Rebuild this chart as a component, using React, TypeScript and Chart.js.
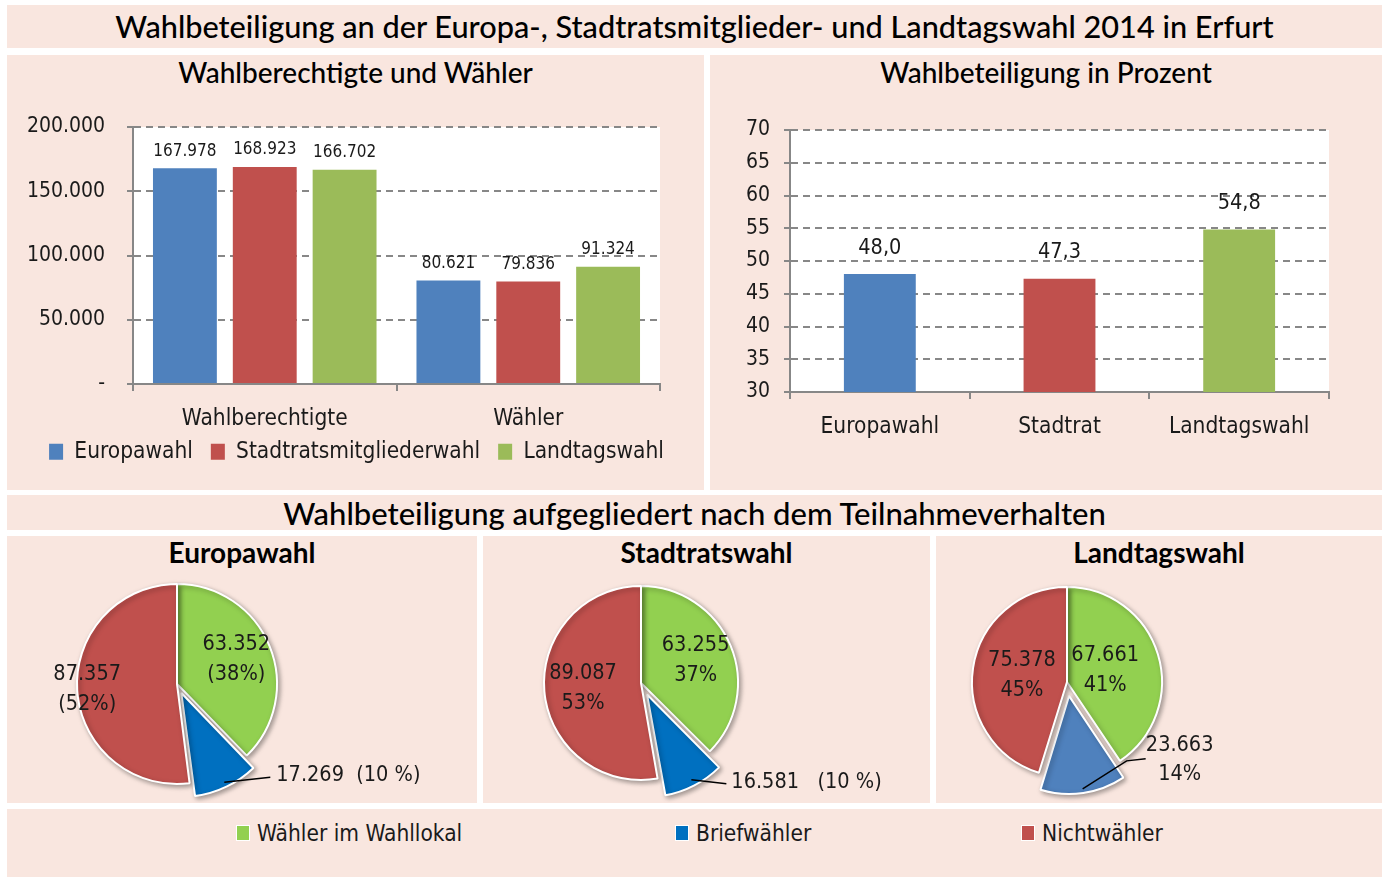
import React, { useEffect, useRef } from 'react';
import { Chart, registerables } from 'chart.js';

Chart.register(...registerables);

// ---------------- data ----------------
const mainTitle = 'Wahlbeteiligung an der Europa-, Stadtratsmitglieder- und Landtagswahl 2014 in Erfurt';
const countTitle = 'Wahlberechtigte und Wähler';
const turnoutTitle = 'Wahlbeteiligung in Prozent';
const pieSectionTitle = 'Wahlbeteiligung aufgegliedert nach dem Teilnahmeverhalten';

const countCategories = ['Wahlberechtigte', 'Wähler'];
const countSeries = ['Europawahl', 'Stadtratsmitgliederwahl', 'Landtagswahl'];
const europawahlCounts = [167978, 80621];
const stadtratCounts = [168923, 79836];
const landtagCounts = [166702, 91324];

const turnoutCategories = ['Europawahl', 'Stadtrat', 'Landtagswahl'];
const turnoutPercent = [48.0, 47.3, 54.8];

const pieTitles = ['Europawahl', 'Stadtratswahl', 'Landtagswahl'];
const pieCategories = ['Wähler im Wahllokal', 'Briefwähler', 'Nichtwähler'];
const europaVoters = [63352, 17269, 87357];
const stadtratVoters = [63255, 16581, 89087];
const landtagVoters = [67661, 23663, 75378];
const europaShares = ['(38%)', '(10 %)', '(52%)'];
const stadtratShares = ['37%', '(10 %)', '53%'];
const landtagShares = ['41%', '14%', '45%'];

// ---------------- styles ----------------
const PINK = '#F9E6DF';
const NARROW = '"DejaVu Sans Condensed", "Liberation Sans Narrow", "Liberation Sans", sans-serif';
const TITLE_FONT = 'Lato, "Noto Sans", sans-serif';
const TEXT = '#1a1a1a';
const AXIS = '#878787';
const BAR_BLUE = '#4F81BD';
const BAR_RED = '#C0504D';
const BAR_GREEN = '#9BBB59';
const PIE_GREEN = '#92D050';
const PIE_BLUE = '#0070C0';
const PIE_BLUE_LIGHT = '#4F81BD';
const PIE_RED = '#C0504D';

const fmtThousands = (v: number) => String(Math.round(v)).replace(/\B(?=(\d{3})+(?!\d))/g, '.');
const fmtDecimal = (v: number) => v.toFixed(1).replace('.', ',');

// ---------------- plugins ----------------
const plotBackground = {
  id: 'plotBackground',
  beforeDraw(chart: any) {
    const { ctx, chartArea: a } = chart;
    ctx.save();
    ctx.fillStyle = '#ffffff';
    ctx.fillRect(a.left, a.top, a.right - a.left, a.bottom - a.top);
    ctx.restore();
  },
};

const barValueLabels = (fmt: (v: number) => string, gap: number, size: number) => ({
  id: 'barValueLabels',
  afterDatasetsDraw(chart: any) {
    const ctx = chart.ctx;
    ctx.save();
    ctx.font = `${size}px ${NARROW}`;
    ctx.fillStyle = TEXT;
    ctx.textAlign = 'center';
    ctx.textBaseline = 'middle';
    chart.data.datasets.forEach((ds: any, di: number) => {
      chart.getDatasetMeta(di).data.forEach((bar: any, i: number) => {
        ctx.fillText(fmt(ds.data[i]), bar.x, bar.y - gap);
      });
    });
    ctx.restore();
  },
});

const legendShift = (dx: number, dy: number) => ({
  id: 'legendShift',
  afterLayout(chart: any) {
    if (chart.legend) {
      chart.legend.left += dx;
      chart.legend.right += dx;
      chart.legend.top += dy;
      chart.legend.bottom += dy;
    }
  },
});

const pieShadow = {
  id: 'pieShadow',
  beforeDatasetsDraw(chart: any) {
    const c = chart.ctx;
    c.save();
    c.shadowColor = 'rgba(0,0,0,0.35)';
    c.shadowBlur = 5;
    c.shadowOffsetX = 2;
    c.shadowOffsetY = 2;
  },
  afterDatasetsDraw(chart: any) {
    chart.ctx.restore();
  },
};

type OutSpec = { index: number; lines: string[]; leader: [number, number][]; dx: number; dy: number; align: CanvasTextAlign };

const pieLabels = (inside: { index: number; lines: string[]; frac: number }[], out: OutSpec) => ({
  id: 'pieLabels',
  afterDraw(chart: any) {
    const ctx = chart.ctx;
    const meta = chart.getDatasetMeta(0);
    const ds = chart.data.datasets[0];
    const lh = 30;
    ctx.save();
    ctx.font = `21.5px ${NARROW}`;
    ctx.fillStyle = TEXT;
    ctx.textBaseline = 'middle';
    inside.forEach((l) => {
      const arc = meta.data[l.index];
      const mid = (arc.startAngle + arc.endAngle) / 2;
      const cx = arc.x + Math.cos(mid) * arc.outerRadius * l.frac;
      const cy = arc.y + Math.sin(mid) * arc.outerRadius * l.frac;
      ctx.textAlign = 'center';
      l.lines.forEach((t, k) => ctx.fillText(t, cx, cy + (k - (l.lines.length - 1) / 2) * lh));
    });
    const arc = meta.data[out.index];
    const mid = (arc.startAngle + arc.endAngle) / 2;
    const off = (ds.offset[out.index] || 0) / 4;
    const dist = arc.outerRadius + off - 1;
    let px = arc.x + Math.cos(mid) * dist;
    let py = arc.y + Math.sin(mid) * dist;
    ctx.strokeStyle = '#000';
    ctx.lineWidth = 1.5;
    ctx.beginPath();
    ctx.moveTo(px, py);
    out.leader.forEach(([dx, dy]) => {
      px += dx;
      py += dy;
      ctx.lineTo(px, py);
    });
    ctx.stroke();
    ctx.textAlign = out.align;
    const tx = px + out.dx;
    const ty = py + out.dy;
    out.lines.forEach((t, k) => ctx.fillText(t, tx, ty + (k - (out.lines.length - 1) / 2) * 29));
    ctx.restore();
  },
});

// ---------------- chart configs ----------------
const tickFont = { family: NARROW, size: 21 };
const catFont = { family: NARROW, size: 22.5 };
const LEGEND_PAD = 18;
const LEGEND_H = 22.5 + LEGEND_PAD + 10;

function countConfig(): any {
  return {
    type: 'bar',
    data: {
      labels: countCategories,
      datasets: [
        { label: countSeries[0], data: europawahlCounts, backgroundColor: BAR_BLUE },
        { label: countSeries[1], data: stadtratCounts, backgroundColor: BAR_RED },
        { label: countSeries[2], data: landtagCounts, backgroundColor: BAR_GREEN },
      ],
    },
    options: {
      animation: false,
      responsive: false,
      maintainAspectRatio: false,
      datasets: { bar: { categoryPercentage: 0.909, barPercentage: 0.8 } },
      layout: { padding: { left: 0, right: 44, top: 72, bottom: 0 } },
      plugins: {
        legend: {
          position: 'bottom',
          labels: { font: catFont, color: TEXT, boxWidth: 14, boxHeight: 16, padding: LEGEND_PAD },
        },
        tooltip: { enabled: false },
      },
      scales: {
        x: {
          grid: { display: true, offset: true, drawOnChartArea: false, color: AXIS, lineWidth: 2, tickLength: 7 },
          border: { color: AXIS, width: 2 },
          ticks: { font: catFont, color: TEXT, padding: 15 },
          afterFit(s: any) {
            s.height = 106 - LEGEND_H;
          },
        },
        y: {
          min: 0,
          max: 200000,
          ticks: {
            stepSize: 50000,
            autoSkip: false,
            font: tickFont,
            color: TEXT,
            padding: 22,
            callback: (v: number) => (v === 0 ? '-' : fmtThousands(v)),
          },
          grid: { color: AXIS, lineWidth: 2, tickLength: 6, tickBorderDash: [] },
          border: { color: AXIS, width: 2, dash: [7, 5] },
          afterFit(s: any) {
            s.width = 126;
          },
        },
      },
    },
    plugins: [plotBackground, barValueLabels(fmtThousands, 17, 17), legendShift(23, -17)],
  };
}

function turnoutConfig(): any {
  return {
    type: 'bar',
    data: {
      labels: turnoutCategories,
      datasets: [
        {
          label: turnoutTitle,
          data: turnoutPercent,
          backgroundColor: [BAR_BLUE, BAR_RED, BAR_GREEN],
        },
      ],
    },
    options: {
      animation: false,
      responsive: false,
      maintainAspectRatio: false,
      datasets: { bar: { categoryPercentage: 1, barPercentage: 0.4 } },
      layout: { padding: { left: 0, right: 53, top: 75, bottom: 0 } },
      plugins: { legend: { display: false }, tooltip: { enabled: false } },
      scales: {
        x: {
          grid: { display: true, offset: true, drawOnChartArea: false, color: AXIS, lineWidth: 2, tickLength: 7 },
          border: { color: AXIS, width: 2 },
          ticks: { font: catFont, color: TEXT, padding: 15 },
          afterFit(s: any) {
            s.height = 98;
          },
        },
        y: {
          min: 30,
          max: 70,
          ticks: { stepSize: 5, autoSkip: false, font: tickFont, color: TEXT, padding: 14 },
          grid: { color: AXIS, lineWidth: 2, tickLength: 6, tickBorderDash: [] },
          border: { color: AXIS, width: 2, dash: [7, 5] },
          afterFit(s: any) {
            s.width = 80;
          },
        },
      },
    },
    plugins: [plotBackground, barValueLabels(fmtDecimal, 26, 21.5)],
  };
}

function pieConfig(values: number[], colors: string[], offsets: number[], radius: number, pad: any, labels: any): any {
  return {
    type: 'pie',
    data: {
      labels: pieCategories,
      datasets: [
        {
          data: values,
          backgroundColor: colors,
          borderColor: '#ffffff',
          borderWidth: 2,
          offset: offsets,
          radius,
        },
      ],
    },
    options: {
      animation: false,
      responsive: false,
      maintainAspectRatio: false,
      layout: { padding: pad },
      plugins: { legend: { display: false }, tooltip: { enabled: false } },
    },
    plugins: [pieShadow, labels],
  };
}

const europaPie = () =>
  pieConfig(
    europaVoters,
    [PIE_GREEN, PIE_BLUE, PIE_RED],
    [0, 40, 0],
    100,
    { left: 0, right: 130, top: 29, bottom: 0 },
    pieLabels(
      [
        { index: 0, frac: 0.64, lines: [fmtThousands(europaVoters[0]), europaShares[0]] },
        { index: 2, frac: 0.9, lines: [fmtThousands(europaVoters[2]), europaShares[2]] },
      ],
      { index: 1, lines: [`${fmtThousands(europaVoters[1])}  ${europaShares[1]}`], leader: [[46, -5]], dx: 6, dy: -2, align: 'left' }
    )
  );

const stadtratPie = () =>
  pieConfig(
    stadtratVoters,
    [PIE_GREEN, PIE_BLUE, PIE_RED],
    [0, 52, 0],
    97,
    { left: 0, right: 131, top: 27, bottom: 0 },
    pieLabels(
      [
        { index: 0, frac: 0.61, lines: [fmtThousands(stadtratVoters[0]), stadtratShares[0]] },
        { index: 2, frac: 0.6, lines: [fmtThousands(stadtratVoters[2]), stadtratShares[2]] },
      ],
      { index: 1, lines: [`${fmtThousands(stadtratVoters[1])}   ${stadtratShares[1]}`], leader: [[35, 4]], dx: 5, dy: -1, align: 'left' }
    )
  );

const landtagPie = () =>
  pieConfig(
    landtagVoters,
    [PIE_GREEN, PIE_BLUE_LIGHT, PIE_RED],
    [0, 56, 0],
    95,
    { left: 0, right: 184, top: 25, bottom: 0 },
    pieLabels(
      [
        { index: 0, frac: 0.42, lines: [fmtThousands(landtagVoters[0]), landtagShares[0]] },
        { index: 2, frac: 0.48, lines: [fmtThousands(landtagVoters[2]), landtagShares[2]] },
      ],
      { index: 1, lines: [fmtThousands(landtagVoters[1]), landtagShares[1]], leader: [[44, -28], [19, -2]], dx: 34, dy: 1, align: 'center' }
    )
  );

// ---------------- components ----------------
function ChartCanvas({ left, top, width, height, config }: any) {
  const ref = useRef<HTMLCanvasElement>(null);
  useEffect(() => {
    const chart = new Chart(ref.current as HTMLCanvasElement, config());
    return () => chart.destroy();
  }, []);
  return (
    <canvas
      ref={ref}
      width={width}
      height={height}
      style={{ position: 'absolute', left, top, width, height, display: 'block' }}
    />
  );
}

function Box({ left, top, width, height }: any) {
  return <div style={{ position: 'absolute', left, top, width, height, background: PINK }} />;
}

function Title({ left, top, width, height, text, size = 28, weight = 400 }: any) {
  return (
    <div
      style={{
        position: 'absolute',
        left,
        top,
        width,
        height,
        lineHeight: `${height}px`,
        textAlign: 'center',
        fontFamily: TITLE_FONT,
        fontSize: size,
        fontWeight: weight,
        color: '#000',
        whiteSpace: 'nowrap',
      }}
    >
      {text}
    </div>
  );
}

function LegendItem({ x, color, text }: any) {
  return (
    <div style={{ position: 'absolute', left: x, top: 816, height: 34, display: 'flex', alignItems: 'center' }}>
      <span style={{ width: 12, height: 14, background: color, outline: '1px solid #fff', display: 'inline-block' }} />
      <span style={{ marginLeft: 8, fontFamily: NARROW, fontSize: 22.5, color: TEXT, whiteSpace: 'nowrap' }}>{text}</span>
    </div>
  );
}

export default function App() {
  return (
    <div style={{ position: 'absolute', left: 0, top: 0, width: 1384, height: 877, background: '#fff', overflow: 'hidden' }}>
      <Box left={7} top={5} width={1375} height={43} />
      <Title left={7} top={5} width={1375} height={43} text={mainTitle} size={30.7} weight={500} />

      <Box left={7} top={55} width={697} height={435} />
      <Title left={7} top={57} width={697} height={30} text={countTitle} weight={500} />
      <ChartCanvas left={7} top={55} width={697} height={435} config={countConfig} />

      <Box left={710} top={55} width={672} height={435} />
      <Title left={710} top={57} width={672} height={30} text={turnoutTitle} weight={500} />
      <ChartCanvas left={710} top={55} width={672} height={435} config={turnoutConfig} />

      <Box left={7} top={495} width={1375} height={35} />
      <Title left={7} top={496} width={1375} height={34} text={pieSectionTitle} size={31} weight={500} />

      <Box left={7} top={536} width={470} height={267} />
      <Title left={7} top={537} width={470} height={30} text={pieTitles[0]} weight={700} />
      <ChartCanvas left={7} top={536} width={470} height={267} config={europaPie} />

      <Box left={483} top={536} width={447} height={267} />
      <Title left={483} top={537} width={447} height={30} text={pieTitles[1]} weight={700} />
      <ChartCanvas left={483} top={536} width={447} height={267} config={stadtratPie} />

      <Box left={936} top={536} width={446} height={267} />
      <Title left={936} top={537} width={446} height={30} text={pieTitles[2]} weight={700} />
      <ChartCanvas left={936} top={536} width={446} height={267} config={landtagPie} />

      <Box left={7} top={809} width={1375} height={68} />
      <LegendItem x={237} color={PIE_GREEN} text={pieCategories[0]} />
      <LegendItem x={676} color={PIE_BLUE} text={pieCategories[1]} />
      <LegendItem x={1022} color={PIE_RED} text={pieCategories[2]} />
    </div>
  );
}
